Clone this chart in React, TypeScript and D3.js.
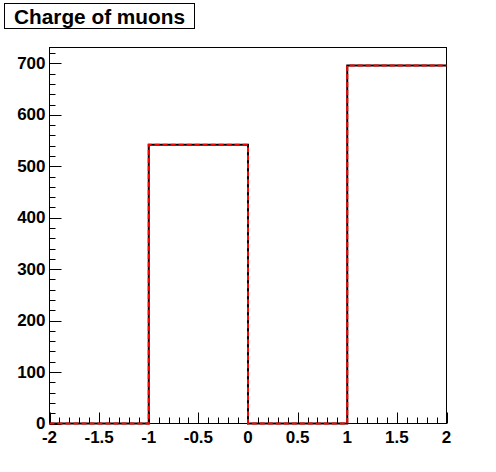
import { useEffect, useRef } from "react";
import * as d3 from "d3";

// histogram bins (charge of muons)
const binEdges = [-2, -1, 0, 1, 2];
const counts = [0, 542, 0, 696];
const xMajorTicks = [-2, -1.5, -1, -0.5, 0, 0.5, 1, 1.5, 2];
const yMajorTicks = [0, 100, 200, 300, 400, 500, 600, 700];
const title = "Charge of muons";

const W = 496;
const H = 472;
const FONT = "'Liberation Sans', Arial, Helvetica, sans-serif";

function App() {
  const ref = useRef<SVGSVGElement>(null);

  useEffect(() => {
    const svg = d3.select(ref.current);
    svg.selectAll("*").remove();

    const left = 49.5;
    const right = 446.5;
    const top = 47.5;
    const bottom = 423.5;

    const x = d3.scaleLinear().domain([-2, 2]).range([left, right]);
    const yMax = (d3.max(counts) as number) * 1.05;
    const y = d3.scaleLinear().domain([0, yMax]).range([bottom, top]);

    svg.append("rect").attr("width", W).attr("height", H).attr("fill", "white");

    // frame
    svg
      .append("rect")
      .attr("x", left)
      .attr("y", top)
      .attr("width", right - left)
      .attr("height", bottom - top)
      .attr("fill", "none")
      .attr("stroke", "black")
      .attr("stroke-width", 1);

    // x ticks
    const xMinor = d3.range(-20, 21).map((i) => i / 10);
    svg
      .selectAll(".xminor")
      .data(xMinor)
      .enter()
      .append("line")
      .attr("x1", (d) => Math.round(x(d)) + 0.5)
      .attr("x2", (d) => Math.round(x(d)) + 0.5)
      .attr("y1", bottom)
      .attr("y2", (d) => (xMajorTicks.includes(d) ? bottom - 11 : bottom - 6))
      .attr("stroke", "black");

    svg
      .selectAll(".xlab")
      .data(xMajorTicks)
      .enter()
      .append("text")
      .attr("x", (d) => x(d))
      .attr("y", 442.5)
      .attr("text-anchor", "middle")
      .attr("font-family", FONT)
      .attr("font-weight", "bold")
      .attr("font-size", 17)
      .text((d) => String(d));

    // y ticks
    const yMinor = d3.range(0, yMax, 20);
    svg
      .selectAll(".yminor")
      .data(yMinor)
      .enter()
      .append("line")
      .attr("x1", left)
      .attr("x2", (d) => (d % 100 === 0 ? left + 12 : left + 6))
      .attr("y1", (d) => Math.round(y(d)) + 0.5)
      .attr("y2", (d) => Math.round(y(d)) + 0.5)
      .attr("stroke", "black");

    svg
      .selectAll(".ylab")
      .data(yMajorTicks)
      .enter()
      .append("text")
      .attr("x", 45.5)
      .attr("y", (d) => y(d) + 5.5)
      .attr("text-anchor", "end")
      .attr("font-family", FONT)
      .attr("font-weight", "bold")
      .attr("font-size", 17)
      .text((d) => String(d));

    // histogram outline
    const pts: [number, number][] = binEdges.map((e, i) => [
      e,
      i < counts.length ? counts[i] : counts[counts.length - 1],
    ]);
    const line = d3
      .line<[number, number]>()
      .x((d) => x(d[0]))
      .y((d) => y(d[1]))
      .curve(d3.curveStepAfter);

    svg
      .append("path")
      .attr("d", line(pts))
      .attr("fill", "none")
      .attr("stroke", "black")
      .attr("stroke-width", 2);
    svg
      .append("path")
      .attr("d", line(pts))
      .attr("fill", "none")
      .attr("stroke", "red")
      .attr("stroke-width", 2)
      .attr("stroke-dasharray", "5,3");

    // title box
    svg
      .append("rect")
      .attr("x", 4.5)
      .attr("y", 3.5)
      .attr("width", 190)
      .attr("height", 25)
      .attr("fill", "white")
      .attr("stroke", "black");
    svg
      .append("text")
      .attr("x", 14)
      .attr("y", 24)
      .attr("font-family", FONT)
      .attr("font-weight", "bold")
      .attr("font-size", 20.8)
      .text(title);
  }, []);

  return (
    <svg
      ref={ref}
      width={W}
      height={H}
      style={{ position: "absolute", left: 0, top: 0 }}
    />
  );
}

export default App;
